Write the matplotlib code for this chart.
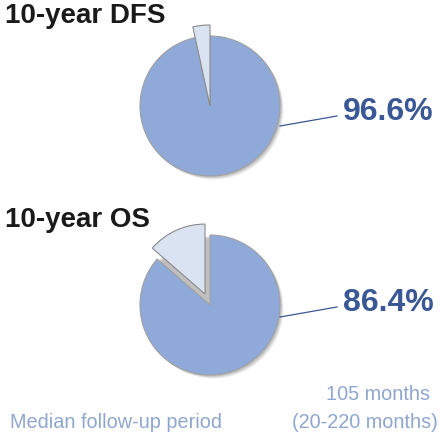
import matplotlib.pyplot as plt
from matplotlib.patches import Circle

plt.rcParams['font.family'] = ['Liberation Sans', 'DejaVu Sans']

titles    = ['10-year DFS', '10-year OS']
rates     = [96.6, 86.4]
explodes  = [0, 12]          # offset of the small slice, pixels
slice_r   = [81, 70]         # radius of the small slice, pixels
centers_y = [106, 305]       # pixel rows of pie centres (from top)
title_y   = [16, 220]
label_y   = [112, 303]

H = 443
R = 70
main_col  = '#8faad9'
slice_col = '#dae3f2'
dark_blue = '#3b5896'
light_blue = '#8fa6cf'

fig = plt.figure(figsize=(4.46, 4.43), dpi=100)
ax = fig.add_axes([0, 0, 1, 1])

for t, r, ex, sr, cy, ty, ly in zip(titles, rates, explodes, slice_r,
                                     centers_y, title_y, label_y):
    # soft drop shadow under the pie
    for k, a in [(3.5, 0.10), (2.5, 0.15), (1.5, 0.2)]:
        ax.add_patch(Circle((210 + k, H - cy - k), R, color='#606060', alpha=a,
                            lw=0, zorder=0.5))
    wedges, _ = ax.pie([r, 100 - r], colors=[main_col, slice_col], startangle=90,
                       counterclock=False, explode=[0, ex], center=(210, H - cy),
                       radius=R, wedgeprops=dict(edgecolor='#a0a0a0', linewidth=0.8))
    wedges[1].set_radius(sr)
    wedges[1].set_edgecolor('#8a8a8a')
    ax.text(5, H - ty, t, fontsize=20, fontweight='bold', color='#1a1a1a',
            ha='left', va='center')
    ax.text(343, H - ly, f'{r}%', fontsize=23, fontweight='bold', color=dark_blue,
            ha='left', va='center')
    ax.plot([280, 337], [H - (ly + 14), H - (ly + 4)], color=dark_blue, lw=0.9)

ax.text(378, H - 395, '105 months', fontsize=14.3, color=light_blue,
        ha='center', va='center')
ax.text(365, H - 423, '(20-220 months)', fontsize=14.3, color=light_blue,
        ha='center', va='center')
ax.text(10, H - 422, 'Median follow-up period', fontsize=14.3, color=light_blue,
        ha='left', va='center')

ax.set_xlim(0, 446)
ax.set_ylim(0, H)
ax.set_aspect('auto')
ax.axis('off')
fig.savefig('out.png', dpi=100)
